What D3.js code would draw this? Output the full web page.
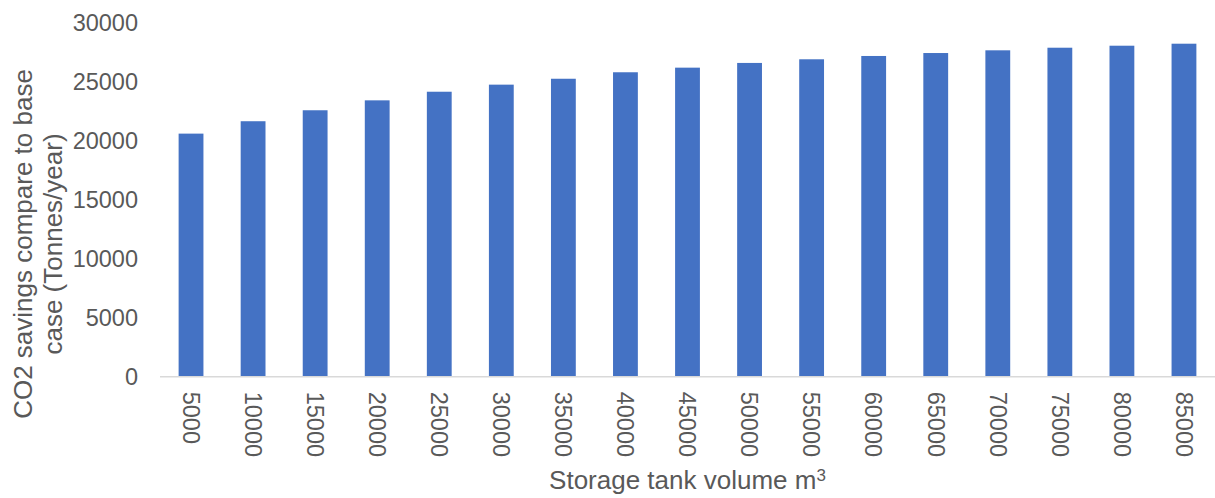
<!DOCTYPE html>
<html>
<head>
<meta charset="utf-8">
<script src="https://cdn.jsdelivr.net/npm/d3@7"></script>
<style>
    body { margin: 0; background: #fff; }
    #chart { width: 1215px; height: 498px; }
    text { font-family: "Liberation Sans", Arial, sans-serif; fill: #595959; }
</style>
</head>
<body>
<div id="chart"></div>
<script>
// chart data
const tankVolumes = ['5000','10000','15000','20000','25000','30000','35000','40000','45000',
    '50000','55000','60000','65000','70000','75000','80000','85000'];
const co2Savings = [20600, 21650, 22580, 23420, 24150, 24750, 25250, 25800, 26190,
    26590, 26900, 27180, 27430, 27660, 27880, 28050, 28220];
const yTicks = [0, 5000, 10000, 15000, 20000, 25000, 30000];

const data = tankVolumes.map((v, i) => ({volume: v, saving: co2Savings[i]}));

// layout
const width = 1215, height = 498;
const margin = {t: 22.7, r: 0, b: 121.3, l: 160};
const w = width - margin.l - margin.r;
const h = height - margin.t - margin.b;

const svg = d3.select('#chart')
    .append('svg')
    .attr('width', width)
    .attr('height', height);

const plot = svg.append('g')
    .attr('transform', `translate(${margin.l},${margin.t})`);

// scales
const scaleX = d3.scaleBand()
    .domain(tankVolumes)
    .range([0, w])
    .paddingInner(0.6)
    .paddingOuter(0.3);

const scaleY = d3.scaleLinear()
    .domain([0, 30000])
    .range([h, 0]);

// bars
plot.selectAll('.bar')
    .data(data)
    .enter()
    .append('rect')
    .attr('class', 'bar')
    .attr('x', d => scaleX(d.volume))
    .attr('y', d => scaleY(d.saving))
    .attr('width', scaleX.bandwidth())
    .attr('height', d => h - scaleY(d.saving))
    .attr('fill', '#4472c4');

// y axis (labels only)
const axisY = d3.axisLeft(scaleY)
    .tickValues(yTicks)
    .tickFormat(d3.format('d'))
    .tickSize(0)
    .tickPadding(22);
const axisYNode = plot.append('g')
    .attr('class', 'axis axis-y')
    .call(axisY);
axisYNode.select('.domain').remove();
axisYNode.selectAll('text')
    .style('font-size', '23.5px')
    .attr('fill', '#595959');

// x axis
const axisX = d3.axisBottom(scaleX).tickSize(0);
const axisXNode = plot.append('g')
    .attr('class', 'axis axis-x')
    .attr('transform', `translate(0,${h})`)
    .call(axisX);
axisXNode.select('.domain').remove();
axisXNode.append('line')
    .attr('x1', 0)
    .attr('x2', w)
    .attr('stroke', '#d9d9d9')
    .attr('stroke-width', 1.5);
axisXNode.selectAll('.tick text')
    .style('font-size', '23.5px')
    .attr('fill', '#595959')
    .attr('text-anchor', 'start')
    .attr('y', 0)
    .attr('dy', '0.35em')
    .attr('transform', 'translate(0,15) rotate(90)');

// axis titles
svg.append('text')
    .attr('x', margin.l + w / 2)
    .attr('y', 489)
    .attr('text-anchor', 'middle')
    .style('font-size', '26px')
    .text('Storage tank volume m')
    .append('tspan')
    .attr('dy', '-0.45em')
    .style('font-size', '17px')
    .text('3');

const yTitle = svg.append('text')
    .attr('transform', 'translate(32,244) rotate(-90)')
    .attr('text-anchor', 'middle')
    .style('font-size', '26px');
yTitle.append('tspan')
    .attr('x', 0)
    .attr('y', 0)
    .text('CO2 savings compare to base');
yTitle.append('tspan')
    .attr('x', 0)
    .attr('y', 30)
    .text('case (Tonnes/year)');
</script>
</body>
</html>
